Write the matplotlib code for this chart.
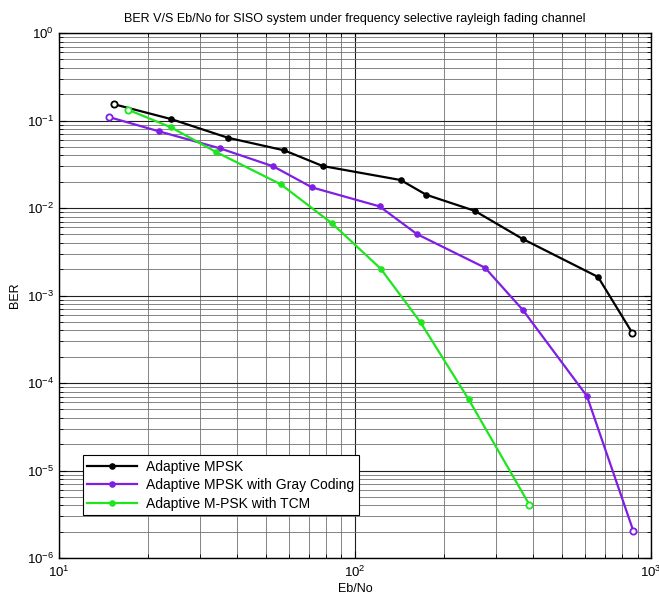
import numpy as np
import matplotlib; matplotlib.use("Agg")
import matplotlib.pyplot as plt
from matplotlib.ticker import LogLocator, NullFormatter, FuncFormatter

plt.rcParams["font.family"] = ["Liberation Sans", "DejaVu Sans"]
plt.rcParams["mathtext.fontset"] = "custom"
plt.rcParams["mathtext.rm"] = "Liberation Sans"
plt.rcParams["mathtext.it"] = "Liberation Sans"
plt.rcParams["mathtext.default"] = "regular"

# data
ebno_mpsk = [15.3, 23.9, 37.2, 57.7, 77.8, 142.6, 173.8, 253.5, 369, 662, 863]
ber_mpsk = [0.154, 0.104, 0.0636, 0.0456, 0.0302, 0.0209, 0.0142, 0.0093, 0.00442, 0.00163, 0.000376]
ebno_gray = [14.75, 21.8, 35.0, 53.0, 71.6, 121, 161.8, 274.8, 369, 607, 871]
ber_gray = [0.1096, 0.0752, 0.0481, 0.0299, 0.0172, 0.01045, 0.00504, 0.00208, 0.000683, 7.1e-5, 2.04e-6]
ebno_tcm = [17.1, 23.9, 33.8, 56.1, 83.6, 122.2, 166.4, 242, 388]
ber_tcm = [0.133, 0.0836, 0.0440, 0.0187, 0.00668, 0.00202, 0.000494, 6.5e-5, 4.07e-6]

labels = ["Adaptive MPSK", "Adaptive MPSK with Gray Coding", "Adaptive M-PSK with TCM"]
colors = ["#000000", "#7f1fe6", "#1ee61e"]

fig = plt.figure(figsize=(6.59, 6.01), dpi=100)
ax = fig.add_axes([0.0895, 0.0715, 0.8985, 0.8735])

for x, y, c, lab in zip([ebno_mpsk, ebno_gray, ebno_tcm], [ber_mpsk, ber_gray, ber_tcm], colors, labels):
    ax.plot(x, y, "-", color=c, lw=1.6, marker=".", ms=7.5, label=lab, zorder=3)
    # open circles on the end points
    ax.plot([x[0], x[-1]], [y[0], y[-1]], "o", mfc="white", mec=c, mew=1.3, ms=4.5, zorder=4)

ax.set_xscale("log"); ax.set_yscale("log")
ax.set_xlim(10, 1000); ax.set_ylim(1e-6, 1)
ax.xaxis.set_minor_locator(LogLocator(base=10, subs=np.arange(2, 10), numticks=20))
ax.yaxis.set_minor_locator(LogLocator(base=10, subs=np.arange(2, 10), numticks=20))
ax.xaxis.set_minor_formatter(NullFormatter()); ax.yaxis.set_minor_formatter(NullFormatter())
pow10 = FuncFormatter(lambda v, p: "$10^{%d}$" % int(round(np.log10(v))))
ax.xaxis.set_major_formatter(pow10); ax.yaxis.set_major_formatter(pow10)

ax.grid(True, which="major", color="#202020", lw=0.8)
ax.grid(True, which="minor", color="#707070", lw=0.6)
ax.tick_params(which="both", direction="in", top=True, right=True, labelsize=9.5)
ax.tick_params(which="major", length=5)
ax.tick_params(which="minor", length=3)
ax.tick_params(axis="x", pad=5)
for s in ax.spines.values():
    s.set_linewidth(1.0)

ax.set_title("BER V/S Eb/No for SISO system under frequency selective rayleigh fading channel", fontsize=9, pad=8)
ax.set_xlabel("Eb/No", fontsize=9, labelpad=2)
ax.set_ylabel("BER", fontsize=9, labelpad=4)

leg = ax.legend(loc="lower left", bbox_to_anchor=(0.028, 0.068), fontsize=10, fancybox=False,
                framealpha=1, edgecolor="black", handlelength=3.6, borderpad=0.35, labelspacing=0.3,
                handletextpad=0.6)
leg.get_frame().set_linewidth(0.8)

fig.savefig("out.png")
